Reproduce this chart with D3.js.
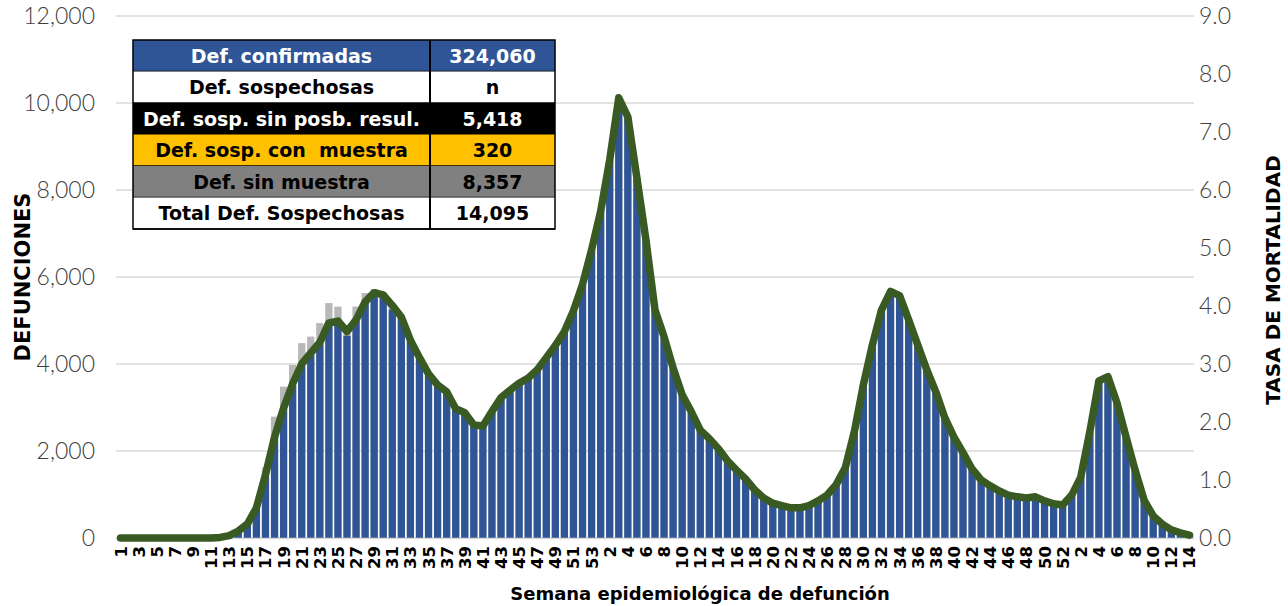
<!DOCTYPE html>
<html>
<head>
<meta charset="utf-8">
<script src="https://cdn.jsdelivr.net/npm/d3@7"></script>
<style>
  body { margin: 0; background: #fff; }
  svg { display: block; }
</style>
</head>
<body>
<svg id="chart" width="1288" height="606"></svg>
<script>

// semanas epidemiologicas (2020, 2021, 2022)
const semanas2020 = d3.range(1, 54);
const semanas2021 = d3.range(1, 53);
const semanas2022 = d3.range(1, 15);

// defunciones confirmadas por semana
const confirmadas = [
  0, 0, 0, 0, 0, 0, 0, 0, 0, 0, 0, 5, 40, 150, 320, 680, 1420, 2300, 2950, 3500,
  3950, 4200, 4450, 4900, 4950, 4650, 4980, 5400, 5620, 5560, 5250, 5050, 4520, 4120, 3760, 3500,
  3350, 2960, 2860, 2590, 2560, 2880, 3200, 3390, 3550, 3670, 3850, 4130, 4410, 4730, 5210, 5810, 6600,
  // 2021
  7480, 8680, 10100, 9650, 8260, 6830, 5230, 4600, 3900, 3280, 2880, 2470, 2270, 2040, 1760, 1550,
  1350, 1090, 910, 800, 730, 680, 680, 730, 840, 980, 1210, 1600, 2430, 3500, 4430, 5220,
  5640, 5550, 5000, 4430, 3850, 3350, 2750, 2310, 1950, 1580, 1320, 1190, 1070, 980, 930, 910,
  930, 840, 770, 750,
  // 2022
  980, 1390, 2430, 3600, 3690, 3090, 2310, 1550, 860, 490, 310, 170, 100, 60
];

// defunciones sospechosas (se dibujan detras, sobre las confirmadas)
const sospechosas = [
  0, 0, 0, 0, 0, 0, 0, 0, 0, 0, 0, 0, 5, 20, 40, 60, 200, 490, 530, 480,
  530, 430, 490, 500, 370, 80, 340, 230, 100, 80, 60, 50, 40, 40, 40, 30,
  30, 30, 30, 30, 30, 30, 30, 30, 30, 30, 30, 30, 30, 30, 30, 30, 30,
  30, 30, 30, 30, 30, 30, 30, 30, 30, 30, 30, 30, 30, 30, 30, 30,
  30, 30, 30, 30, 30, 30, 30, 30, 30, 30, 30, 30, 30, 30, 30, 30,
  30, 30, 30, 30, 30, 30, 30, 30, 30, 30, 30, 30, 30, 30, 30, 30,
  30, 30, 30, 30,
  30, 30, 30, 30, 30, 30, 30, 30, 30, 20, 10, 10, 10, 10
];

// tasa de mortalidad (eje derecho)
const tasa = [
  0, 0, 0, 0, 0, 0, 0, 0, 0, 0, 0, 0.01, 0.04, 0.12, 0.24, 0.52, 1.09, 1.74, 2.24, 2.66,
  3.00, 3.19, 3.37, 3.71, 3.74, 3.56, 3.76, 4.07, 4.23, 4.19, 4.01, 3.81, 3.41, 3.11, 2.83, 2.64,
  2.52, 2.23, 2.16, 1.95, 1.93, 2.18, 2.42, 2.55, 2.67, 2.76, 2.90, 3.11, 3.32, 3.56, 3.92, 4.37, 4.97,
  // 2021
  5.63, 6.52, 7.59, 7.26, 6.21, 5.14, 3.93, 3.47, 2.93, 2.47, 2.18, 1.86, 1.71, 1.54, 1.33, 1.17,
  1.02, 0.83, 0.69, 0.60, 0.56, 0.52, 0.52, 0.56, 0.64, 0.74, 0.92, 1.21, 1.83, 2.64, 3.33, 3.93,
  4.25, 4.18, 3.76, 3.33, 2.90, 2.52, 2.07, 1.74, 1.47, 1.19, 1.00, 0.90, 0.81, 0.74, 0.71, 0.69,
  0.71, 0.64, 0.59, 0.57,
  // 2022
  0.74, 1.05, 1.83, 2.71, 2.78, 2.33, 1.74, 1.17, 0.65, 0.38, 0.24, 0.14, 0.09, 0.05
];

const ticksIzq = [0, 2000, 4000, 6000, 8000, 10000, 12000];
const ticksDer = [0, 1, 2, 3, 4, 5, 6, 7, 8, 9];

// tabla resumen
const tablaEtiquetas = ["Def. confirmadas", "Def. sospechosas", "Def. sosp. sin posb. resul.",
  "Def. sosp. con  muestra", "Def. sin muestra", "Total Def. Sospechosas"];
const tablaValores = ["324,060", "n", "5,418", "320", "8,357", "14,095"];
const tablaFondo = ["#2F5597", "#ffffff", "#000000", "#FFC000", "#808080", "#ffffff"];
const tablaTexto = ["#ffffff", "#000000", "#ffffff", "#000000", "#000000", "#000000"];


const svg = d3.select("#chart");
const mLeft = 116, mRight = 1194, mTop = 16, mBottom = 538;

const semanas = [];
semanas2020.forEach(s => semanas.push({ key: "2020-" + s, semana: s }));
semanas2021.forEach(s => semanas.push({ key: "2021-" + s, semana: s }));
semanas2022.forEach(s => semanas.push({ key: "2022-" + s, semana: s }));
semanas.forEach((d, i) => {
  d.conf = confirmadas[i];
  d.total = confirmadas[i] + sospechosas[i];
  d.tasa = tasa[i];
  d.i = i;
});

const x = d3.scaleBand()
  .domain(semanas.map(d => d.key))
  .range([mLeft, mRight])
  .paddingInner(0.2)
  .paddingOuter(0.1);

const y = d3.scaleLinear().domain([0, 12000]).range([mBottom, mTop]);
const y2 = d3.scaleLinear().domain([0, 9]).range([mBottom, mTop]);

// lineas de cuadricula
svg.append("g")
  .selectAll("line")
  .data(ticksIzq)
  .enter().append("line")
  .attr("x1", mLeft)
  .attr("x2", mRight)
  .attr("y1", d => y(d))
  .attr("y2", d => y(d))
  .attr("stroke", "#d9d9d9")
  .attr("stroke-width", 1.5);

// eje izquierdo
const axisIzq = svg.append("g")
  .attr("transform", `translate(${mLeft},0)`)
  .call(d3.axisLeft(y).tickValues(ticksIzq).tickSize(0).tickPadding(21).tickFormat(d3.format(",")));
axisIzq.select(".domain").remove();
axisIzq.selectAll("text")
  .attr("font-family", "Lato, DejaVu Sans")
  .attr("font-weight", 300)
  .attr("font-size", 23)
  .attr("fill", "#404040");

// eje derecho
const axisDer = svg.append("g")
  .attr("transform", `translate(${mRight},0)`)
  .call(d3.axisRight(y2).tickValues(ticksDer).tickSize(0).tickPadding(5).tickFormat(d3.format(".1f")));
axisDer.select(".domain").remove();
axisDer.selectAll("text")
  .attr("font-family", "Lato, DejaVu Sans")
  .attr("font-weight", 300)
  .attr("font-size", 23)
  .attr("fill", "#404040");

// barras sospechosas (gris) detras
svg.append("g")
  .selectAll("rect")
  .data(semanas)
  .enter().append("rect")
  .attr("x", d => x(d.key))
  .attr("width", x.bandwidth())
  .attr("y", d => y(d.total))
  .attr("height", d => y(0) - y(d.total))
  .attr("fill", "#b8b8b8");

// barras confirmadas
svg.append("g")
  .selectAll("rect")
  .data(semanas)
  .enter().append("rect")
  .attr("x", d => x(d.key))
  .attr("width", x.bandwidth())
  .attr("y", d => y(d.conf))
  .attr("height", d => y(0) - y(d.conf))
  .attr("fill", "#2F5597");

// eje x (linea base)
svg.append("line")
  .attr("x1", mLeft).attr("x2", mRight)
  .attr("y1", mBottom + 0.5).attr("y2", mBottom + 0.5)
  .attr("stroke", "#d9d9d9")
  .attr("stroke-width", 1.5);

// linea de tasa
const linea = d3.line()
  .x(d => x(d.key) + x.bandwidth() / 2)
  .y(d => y2(d.tasa));

svg.append("path")
  .datum(semanas)
  .attr("d", linea)
  .attr("fill", "none")
  .attr("stroke", "#3A5A24")
  .attr("stroke-width", 7.5)
  .attr("stroke-linejoin", "round")
  .attr("stroke-linecap", "round");

// etiquetas de semana (una si, una no)
svg.append("g")
  .selectAll("text")
  .data(semanas.filter(d => d.i % 2 === 0))
  .enter().append("text")
  .attr("transform", d => `translate(${x(d.key) + x.bandwidth() / 2 + 6},${mBottom + 8}) rotate(-90)`)
  .attr("text-anchor", "end")
  .attr("font-family", "DejaVu Sans")
  .attr("font-weight", "bold")
  .attr("font-size", 16.5)
  .attr("fill", "#000")
  .text(d => d.semana);

// titulos de ejes
svg.append("text")
  .attr("x", 700)
  .attr("y", 600)
  .attr("text-anchor", "middle")
  .attr("font-family", "DejaVu Sans")
  .attr("font-weight", "bold")
  .attr("font-size", 18)
  .text("Semana epidemiológica de defunción");

svg.append("text")
  .attr("transform", "translate(30,277) rotate(-90)")
  .attr("text-anchor", "middle")
  .attr("font-family", "DejaVu Sans")
  .attr("font-weight", "bold")
  .attr("font-size", 21)
  .text("DEFUNCIONES");

svg.append("text")
  .attr("transform", "translate(1280,280) rotate(-90)")
  .attr("text-anchor", "middle")
  .attr("font-family", "DejaVu Sans")
  .attr("font-weight", "bold")
  .attr("font-size", 20)
  .text("TASA DE MORTALIDAD");

// tabla
const tX = 133, tY = 40, col1 = 297, col2 = 125, filaH = 31.5;
const tabla = svg.append("g");
tablaEtiquetas.forEach((et, i) => {
  const fy = tY + i * filaH;
  tabla.append("rect")
    .attr("x", tX).attr("y", fy)
    .attr("width", col1 + col2).attr("height", filaH)
    .attr("fill", tablaFondo[i]);
  tabla.append("text")
    .attr("x", tX + col1 / 2).attr("y", fy + filaH / 2 + 7)
    .attr("text-anchor", "middle")
    .attr("font-family", "DejaVu Sans")
    .attr("font-weight", "bold")
    .attr("font-size", 19)
    .attr("fill", tablaTexto[i])
    .attr("xml:space", "preserve")
    .text(et);
  tabla.append("text")
    .attr("x", tX + col1 + col2 / 2).attr("y", fy + filaH / 2 + 7)
    .attr("text-anchor", "middle")
    .attr("font-family", "DejaVu Sans")
    .attr("font-weight", "bold")
    .attr("font-size", 19)
    .attr("fill", tablaTexto[i])
    .text(tablaValores[i]);
  tabla.append("line")
    .attr("x1", tX).attr("x2", tX + col1 + col2)
    .attr("y1", fy + filaH).attr("y2", fy + filaH)
    .attr("stroke", "#000").attr("stroke-width", 1.5);
});
tabla.append("rect")
  .attr("x", tX).attr("y", tY)
  .attr("width", col1 + col2).attr("height", filaH * tablaEtiquetas.length)
  .attr("fill", "none").attr("stroke", "#000").attr("stroke-width", 1.5);
tabla.append("line")
  .attr("x1", tX + col1).attr("x2", tX + col1)
  .attr("y1", tY).attr("y2", tY + filaH * tablaEtiquetas.length)
  .attr("stroke", "#000").attr("stroke-width", 2);

</script>
</body>
</html>
